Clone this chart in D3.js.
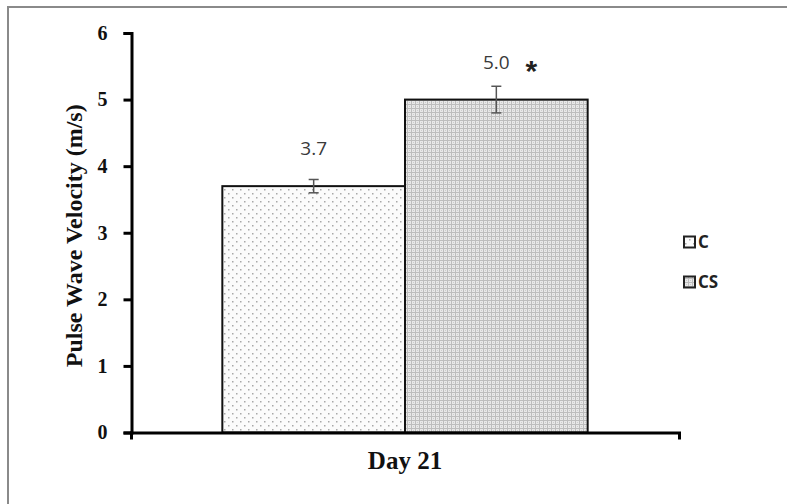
<!DOCTYPE html>
<html>
<head>
<meta charset="utf-8">
<script src="https://cdn.jsdelivr.net/npm/d3@7/dist/d3.min.js"></script>
<style>
  html, body { margin: 0; padding: 0; background: #fff; }
  .axis path, .axis line { stroke: #000; stroke-width: 3; }
  .axis text { font-family: 'Liberation Serif', serif; font-weight: bold; fill: #111; }
</style>
</head>
<body>
<div id="chart"></div>
<script>
/* global d3 */
(function () {
  'use strict'

  var groups = ['Day 21']
  var series = ['C', 'CS']
  var means = [3.7, 5.0]
  var errors = [0.1, 0.2]
  var valueLabels = ['3.7', '5.0']
  var significance = ['', '*']
  var yTicks = [0, 1, 2, 3, 4, 5, 6]

  var W = 787
  var H = 504

  var svg = d3.select('#chart').append('svg')
    .attr('width', W)
    .attr('height', H)

  var defs = svg.append('defs')

  // sparse dots for C
  var pC = defs.append('pattern')
    .attr('id', 'pat-c')
    .attr('patternUnits', 'userSpaceOnUse')
    .attr('width', 8).attr('height', 8)
  pC.append('rect').attr('width', 8).attr('height', 8).attr('fill', '#fbfbfb')
  pC.append('rect').attr('x', 1).attr('y', 1).attr('width', 1.5).attr('height', 1.5).attr('fill', '#a8a8a8')
  pC.append('rect').attr('x', 5).attr('y', 5).attr('width', 1.5).attr('height', 1.5).attr('fill', '#a8a8a8')

  // dense grid for CS
  var pCS = defs.append('pattern')
    .attr('id', 'pat-cs')
    .attr('patternUnits', 'userSpaceOnUse')
    .attr('width', 4).attr('height', 4)
  pCS.append('rect').attr('width', 4).attr('height', 4).attr('fill', '#e8e8e8')
  pCS.append('rect').attr('x', 0).attr('y', 0).attr('width', 1).attr('height', 4).attr('fill', '#bdbdbd')
  pCS.append('rect').attr('x', 0).attr('y', 0).attr('width', 4).attr('height', 1).attr('fill', '#bdbdbd')
  pCS.append('rect').attr('x', 2).attr('y', 2).attr('width', 1).attr('height', 1).attr('fill', '#cccccc')

  var fills = { C: 'url(#pat-c)', CS: 'url(#pat-cs)' }

  // outer frame
  svg.append('rect')
    .attr('x', 8).attr('y', 7)
    .attr('width', 790).attr('height', 510)
    .attr('fill', 'none')
    .attr('stroke', '#8a8a8a')
    .attr('stroke-width', 2)

  var y = d3.scaleLinear().domain([0, 6]).range([432.5, 33])

  var x0 = d3.scaleBand().domain(groups).range([131, 679]).padding(0)
  var x1 = d3.scaleBand().domain(series)
    .range([0, x0.bandwidth()])
    .paddingInner(0)
    .paddingOuter(0.5)

  var data = series.map(function (s, i) {
    return { group: groups[0], key: s, value: means[i], err: errors[i], label: valueLabels[i], sig: significance[i] }
  })

  // bars
  var g = svg.append('g')
    .attr('transform', function () { return 'translate(' + x0(groups[0]) + ',0)' })

  g.selectAll('.bar').data(data).enter().append('rect')
    .attr('class', 'bar')
    .attr('x', function (d) { return x1(d.key) })
    .attr('y', function (d) { return y(d.value) })
    .attr('width', x1.bandwidth())
    .attr('height', function (d) { return y(0) - y(d.value) })
    .attr('fill', function (d) { return fills[d.key] })
    .attr('stroke', '#111')
    .attr('stroke-width', 2)

  // error bars
  var eb = g.selectAll('.err').data(data).enter().append('g')
    .attr('class', 'err')
    .attr('stroke', '#555')
    .attr('stroke-width', 1.5)
  eb.append('line')
    .attr('x1', function (d) { return x1(d.key) + x1.bandwidth() / 2 })
    .attr('x2', function (d) { return x1(d.key) + x1.bandwidth() / 2 })
    .attr('y1', function (d) { return y(d.value + d.err) })
    .attr('y2', function (d) { return y(d.value - d.err) })
  eb.append('line')
    .attr('x1', function (d) { return x1(d.key) + x1.bandwidth() / 2 - 5 })
    .attr('x2', function (d) { return x1(d.key) + x1.bandwidth() / 2 + 5 })
    .attr('y1', function (d) { return y(d.value + d.err) })
    .attr('y2', function (d) { return y(d.value + d.err) })
  eb.append('line')
    .attr('x1', function (d) { return x1(d.key) + x1.bandwidth() / 2 - 5 })
    .attr('x2', function (d) { return x1(d.key) + x1.bandwidth() / 2 + 5 })
    .attr('y1', function (d) { return y(d.value - d.err) })
    .attr('y2', function (d) { return y(d.value - d.err) })

  // value labels
  g.selectAll('.val').data(data).enter().append('text')
    .attr('class', 'val')
    .attr('x', function (d) { return x1(d.key) + x1.bandwidth() / 2 })
    .attr('y', function (d) { return y(d.value) - 31 })
    .attr('text-anchor', 'middle')
    .attr('font-family', "'Open Sans', sans-serif")
    .attr('font-size', 19)
    .attr('fill', '#3a3a3a')
    .text(function (d) { return d.label })

  g.selectAll('.sig').data(data.filter(function (d) { return d.sig })).enter().append('text')
    .attr('class', 'sig')
    .attr('x', function (d) { return x1(d.key) + x1.bandwidth() / 2 + 35 })
    .attr('y', function (d) { return y(d.value) - 19 })
    .attr('text-anchor', 'middle')
    .attr('font-family', "'Liberation Sans', sans-serif")
    .attr('font-weight', 'bold')
    .attr('font-size', 30)
    .attr('fill', '#222')
    .text(function (d) { return d.sig })

  // axes
  var yAxis = d3.axisLeft(y).tickValues(yTicks).tickSize(8).tickPadding(16)
    .tickFormat(d3.format('d'))
  svg.append('g')
    .attr('class', 'axis y')
    .attr('transform', 'translate(131.5,0)')
    .call(yAxis)
    .selectAll('text').attr('font-size', 20)

  var xAxis = d3.axisBottom(x0).tickSizeInner(0).tickSizeOuter(7).tickPadding(19)
  svg.append('g')
    .attr('class', 'axis x')
    .attr('transform', 'translate(0,' + y(0) + ')')
    .call(xAxis)
    .selectAll('text').attr('font-size', 25)

  svg.append('text')
    .attr('transform', 'translate(82,' + (y(3) + 3) + ') rotate(-90)')
    .attr('text-anchor', 'middle')
    .attr('font-family', "'Liberation Serif', serif")
    .attr('font-weight', 'bold')
    .attr('font-size', 24)
    .attr('fill', '#111')
    .text('Pulse Wave Velocity (m/s)')

  // legend
  var legend = svg.append('g').attr('transform', 'translate(684,0)')
  var li = legend.selectAll('.li').data(series).enter().append('g')
    .attr('class', 'li')
    .attr('transform', function (d, i) { return 'translate(0,' + (242 + i * 40) + ')' })
  li.append('rect')
    .attr('x', 0).attr('y', -5.5)
    .attr('width', 11).attr('height', 11)
    .attr('fill', function (d) { return fills[d] })
    .attr('stroke', '#222')
    .attr('stroke-width', 2)
  li.append('text')
    .attr('x', 14).attr('y', 0)
    .attr('dy', '0.35em')
    .attr('font-family', "'Open Sans', sans-serif")
    .attr('font-weight', 'bold')
    .attr('font-size', 17)
    .attr('fill', '#222')
    .text(function (d) { return d })
}())
</script>
</body>
</html>
